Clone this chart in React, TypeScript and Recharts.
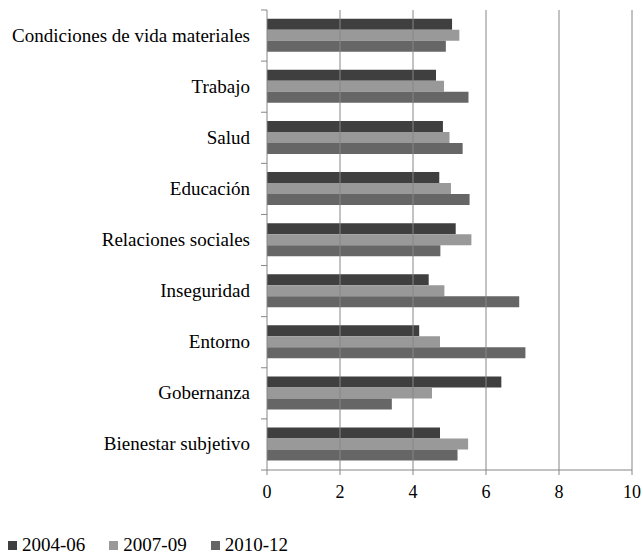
import { Bar, BarChart, Legend, ReferenceLine, XAxis, YAxis } from "recharts"

const categories = [
  "Condiciones de vida materiales",
  "Trabajo",
  "Salud",
  "Educación",
  "Relaciones sociales",
  "Inseguridad",
  "Entorno",
  "Gobernanza",
  "Bienestar subjetivo",
]

const s2004 = [5.07, 4.63, 4.82, 4.72, 5.17, 4.43, 4.17, 6.42, 4.74]
const s2007 = [5.27, 4.85, 5.0, 5.04, 5.6, 4.86, 4.74, 4.52, 5.51]
const s2010 = [4.9, 5.52, 5.36, 5.55, 4.75, 6.91, 7.08, 3.42, 5.22]

const xTicks = [0, 2, 4, 6, 8, 10]

const series = [
  { key: "p1", label: "2004-06", color: "#3f3f3f" },
  { key: "p2", label: "2007-09", color: "#999999" },
  { key: "p3", label: "2010-12", color: "#666666" },
]

const data = categories.map((name, i) => ({
  name,
  p1: s2004[i],
  p2: s2007[i],
  p3: s2010[i],
}))

const FONT = "Times New Roman, Liberation Serif, serif"
const AXIS = "#868686"
const TOP = 10
const PLOT_BOTTOM = 470
const BAND = (PLOT_BOTTOM - TOP) / categories.length

function CategoryTick(props: any) {
  const { x, y, payload, index } = props
  const axisX = x + 17
  return (
    <g>
      <text x={x} y={y} dy={6} textAnchor="end" fontSize={19} style={{ fontFamily: FONT }} fill="#000">
        {payload.value}
      </text>
      <line x1={axisX - 6} x2={axisX} y1={y - BAND / 2} y2={y - BAND / 2} stroke={AXIS} />
      {index === categories.length - 1 && (
        <line x1={axisX - 6} x2={axisX} y1={y + BAND / 2} y2={y + BAND / 2} stroke={AXIS} />
      )}
    </g>
  )
}

function LegendContent() {
  return (
    <div style={{ display: "flex", height: 22, alignItems: "center", paddingLeft: 8, fontFamily: FONT }}>
      {series.map((s) => (
        <div key={s.key} style={{ display: "flex", alignItems: "center", marginRight: 24 }}>
          <span style={{ width: 9, height: 9, background: s.color, marginRight: 5, display: "inline-block" }} />
          <span style={{ fontSize: 19, lineHeight: "22px", color: "#000" }}>{s.label}</span>
        </div>
      ))}
    </div>
  )
}

export default function App() {
  return (
    <div style={{ position: "absolute", left: 0, top: 0, width: 643, height: 554, background: "#fff", fontFamily: FONT }}>
      <BarChart
        width={643}
        height={556}
        data={data}
        layout="vertical"
        margin={{ top: TOP, right: 11, left: 0, bottom: 0 }}
        barCategoryGap="17%"
        barGap={0}
      >
        <XAxis
          type="number"
          domain={[0, 10]}
          ticks={xTicks}
          height={64}
          stroke={AXIS}
          tickSize={5}
          tickMargin={10}
          tick={{ fill: "#000", fontSize: 18, style: { fontFamily: FONT } }}
        />
        <YAxis
          type="category"
          dataKey="name"
          width={267}
          stroke={AXIS}
          tickLine={false}
          tickSize={6}
          tickMargin={11}
          tick={<CategoryTick />}
          interval={0}
        />
        {series.map((s) => (
          <Bar key={s.key} dataKey={s.key} name={s.label} fill={s.color} isAnimationActive={false} />
        ))}
        {xTicks.slice(1).map((t) => (
          <ReferenceLine key={t} x={t} stroke={AXIS} strokeWidth={1} />
        ))}
        <Legend verticalAlign="bottom" align="left" content={<LegendContent />} />
      </BarChart>
    </div>
  )
}
